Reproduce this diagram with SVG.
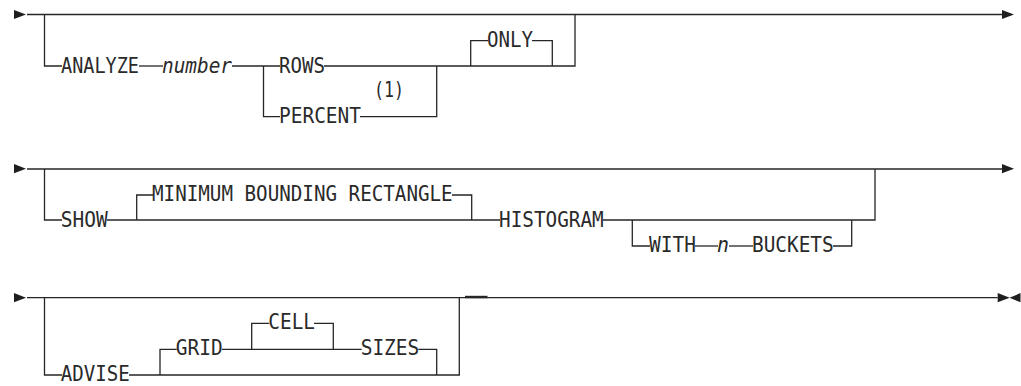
<svg xmlns="http://www.w3.org/2000/svg" width="1021" height="386" viewBox="0 0 1021 386">
<style>
.c{fill:none;stroke:#262626;stroke-width:1.3}
.a{fill:#1e1e1e}
text{font-family:"DejaVu Sans Mono","Liberation Mono",monospace;font-size:20.5px;fill:#2a2a2a}
.i{font-style:italic}
</style>
<defs>
<polygon id="ar" points="0,-4.6 12,0 0,4.6"/>
<polygon id="al" points="0,-4.6 -11,0 0,4.6"/>
</defs>
<rect width="1021" height="386" fill="#fff"/>
<g id="connectors">
<path class="c" d="M27,14.5H1002"/>
<path class="c" d="M44.5,14.5V66H62"/>
<path class="c" d="M139,66H163"/>
<path class="c" d="M232,66H280"/>
<path class="c" d="M263.5,66V116.7H280"/>
<path class="c" d="M324,66H575V14.5"/>
<path class="c" d="M360,116.7H436.7V66"/>
<path class="c" d="M470.7,66V40.7H488"/>
<path class="c" d="M532,40.7H552.3V66"/>
<path class="c" d="M27,169H1002"/>
<path class="c" d="M44.5,169V220H62"/>
<path class="c" d="M107,220H500"/>
<path class="c" d="M136.7,220V195H153"/>
<path class="c" d="M452,195H471.7V220"/>
<path class="c" d="M603,220H875V169"/>
<path class="c" d="M632.3,220V246H650"/>
<path class="c" d="M695,246H718"/>
<path class="c" d="M729,246H753"/>
<path class="c" d="M833,246H851.7V220"/>
<path class="c" d="M27,297.7H997.7"/>
<path class="c" d="M44.5,297.7V375H62"/>
<path class="c" d="M129,375H459.3V297.7"/>
<path class="c" d="M160,375V349.3H176.7"/>
<path class="c" d="M222,349.3H361.7"/>
<path class="c" d="M251.7,349.3V323.3H269.3"/>
<path class="c" d="M314,323.3H333.3V349.3"/>
<path class="c" d="M418.3,349.3H436.7V375"/>
<path class="c" d="M465,297H487.5" style="stroke-width:2.4"/>
<use href="#ar" class="a" x="14" y="14.5"/>
<use href="#ar" class="a" x="1002" y="14.5"/>
<use href="#ar" class="a" x="14" y="168.7"/>
<use href="#ar" class="a" x="1002" y="168.7"/>
<use href="#ar" class="a" x="14" y="297.7"/>
<use href="#ar" class="a" x="997.7" y="297.7"/>
<use href="#al" class="a" x="1020.5" y="297.7"/>
</g>
<g id="analyze"><text x="61" y="72.5" textLength="78" lengthAdjust="spacingAndGlyphs">ANALYZE</text></g>
<g id="number"><text class="i" x="162" y="72.5" textLength="70" lengthAdjust="spacingAndGlyphs">number</text></g>
<g id="rows"><text x="279" y="72.5" textLength="46" lengthAdjust="spacingAndGlyphs">ROWS</text></g>
<g id="percent"><text x="279" y="123" textLength="82" lengthAdjust="spacingAndGlyphs">PERCENT</text></g>
<g id="note1"><text x="374" y="97" textLength="30" lengthAdjust="spacingAndGlyphs">(1)</text></g>
<g id="only"><text x="487" y="46.7" textLength="46" lengthAdjust="spacingAndGlyphs">ONLY</text></g>
<g id="show"><text x="60.7" y="226.5" textLength="47" lengthAdjust="spacingAndGlyphs">SHOW</text></g>
<g id="mbr"><text x="152" y="201" textLength="300.7" lengthAdjust="spacingAndGlyphs">MINIMUM BOUNDING RECTANGLE</text></g>
<g id="histogram"><text x="499" y="226.5" textLength="104.7" lengthAdjust="spacingAndGlyphs">HISTOGRAM</text></g>
<g id="with"><text x="649" y="252" textLength="47" lengthAdjust="spacingAndGlyphs">WITH</text></g>
<g id="n"><text class="i" x="717" y="252" textLength="12" lengthAdjust="spacingAndGlyphs">n</text></g>
<g id="buckets"><text x="752" y="252" textLength="81.7" lengthAdjust="spacingAndGlyphs">BUCKETS</text></g>
<g id="advise"><text x="60.7" y="381" textLength="69" lengthAdjust="spacingAndGlyphs">ADVISE</text></g>
<g id="grid"><text x="175.7" y="355.3" textLength="47" lengthAdjust="spacingAndGlyphs">GRID</text></g>
<g id="cell"><text x="268.3" y="329.3" textLength="46.7" lengthAdjust="spacingAndGlyphs">CELL</text></g>
<g id="sizes"><text x="360.7" y="355.3" textLength="58.6" lengthAdjust="spacingAndGlyphs">SIZES</text></g>
</svg>
